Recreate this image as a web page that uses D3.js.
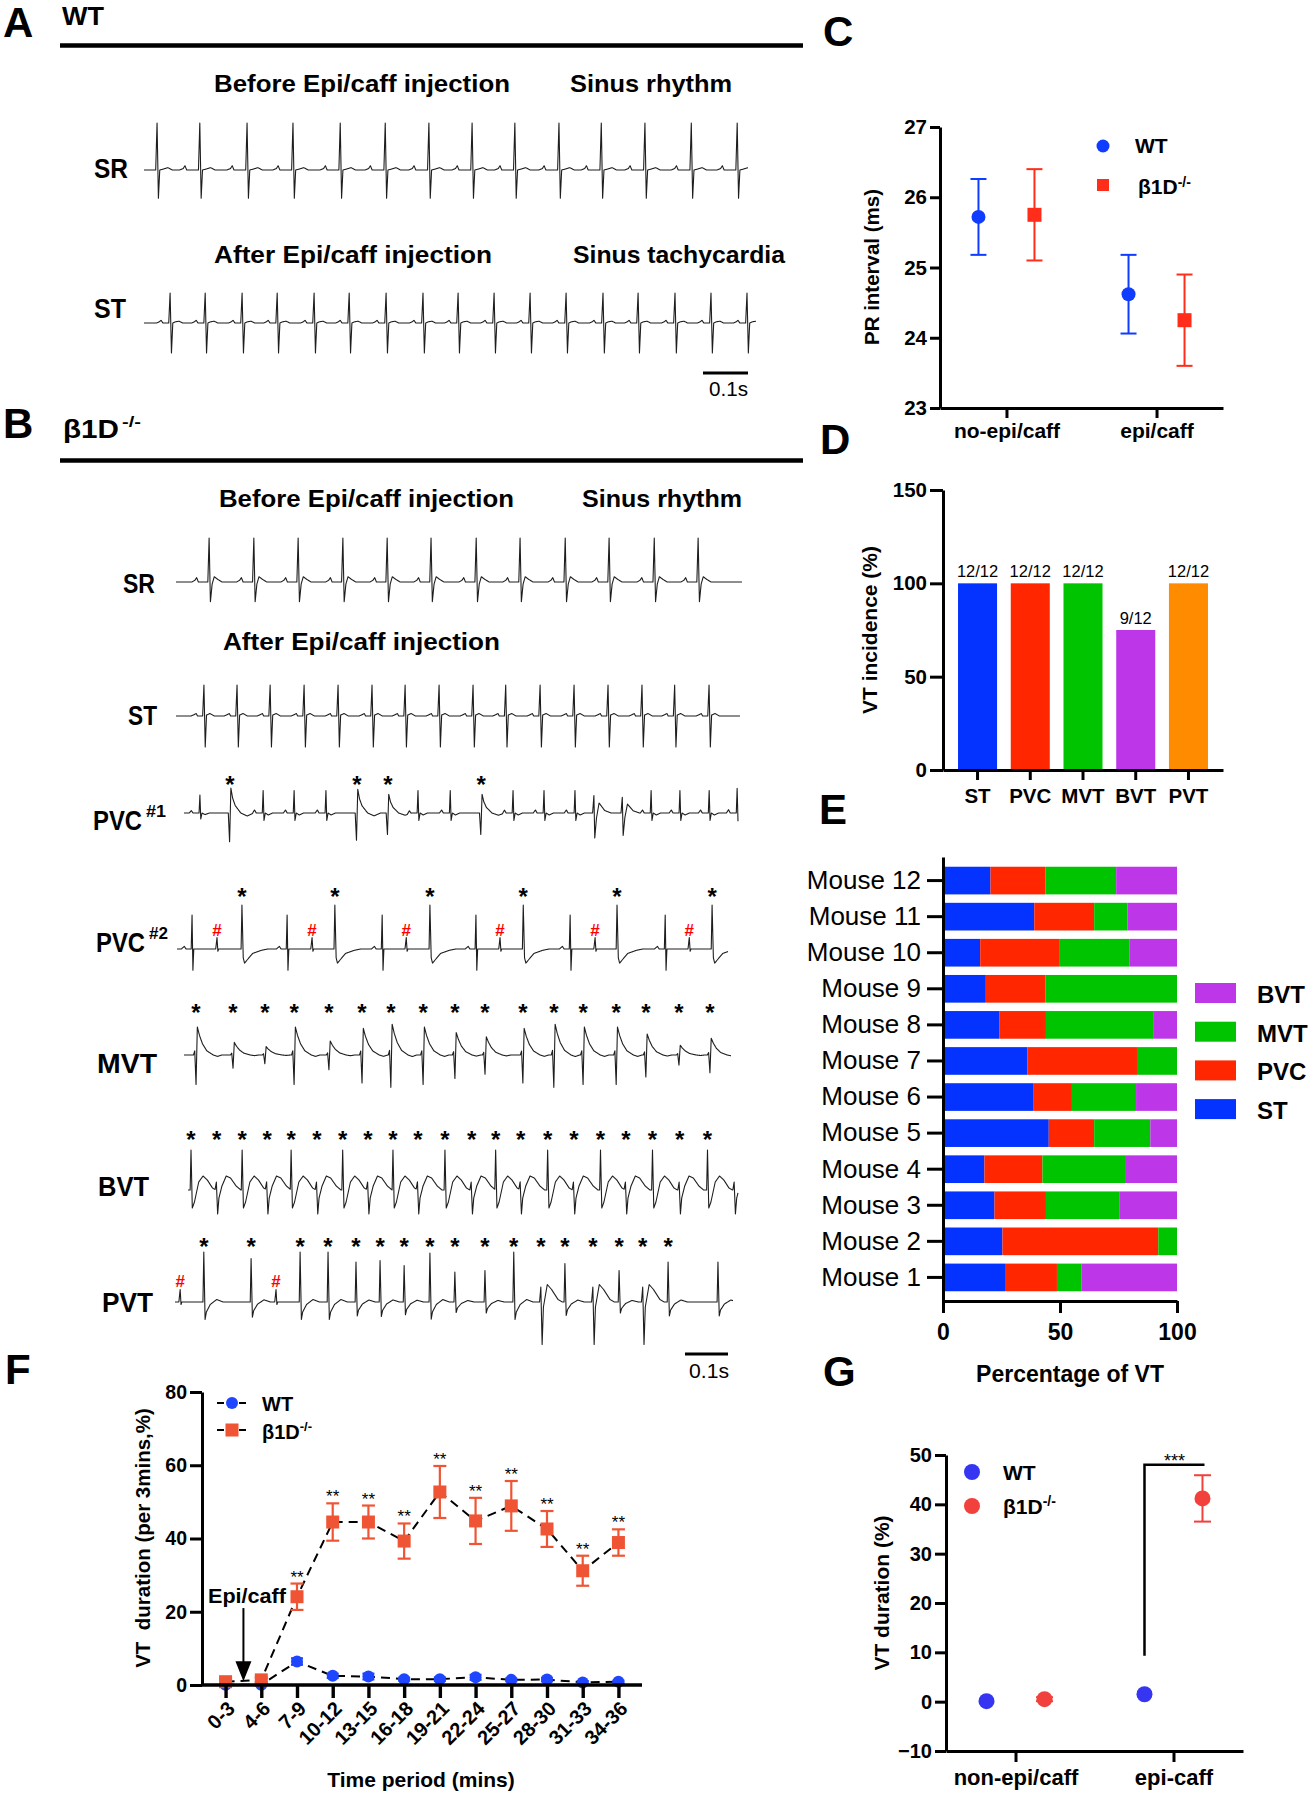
<!DOCTYPE html>
<html><head><meta charset="utf-8">
<script src="https://cdn.jsdelivr.net/npm/d3@7"></script>
<style>body{margin:0;background:#fff}svg{display:block}</style>
</head><body>
<svg id="fig" width="1314" height="1800"></svg>
<script>
// ================= DATA =================
// Panel C : PR interval (ms)
const prGroups = ["no-epi/caff", "epi/caff"];
const prWT = [25.72, 24.62];
const prWTerr = [0.54, 0.56];
const prKO = [25.75, 24.25];
const prKOerr = [0.65, 0.65];
const prTicks = [23, 24, 25, 26, 27];

// Panel D : VT incidence (%)
const vtTypes = ["ST", "PVC", "MVT", "BVT", "PVT"];
const vtIncidence = [100, 100, 100, 75, 100];
const vtCounts = ["12/12", "12/12", "12/12", "9/12", "12/12"];
const incTicks = [0, 50, 100, 150];

// Panel E : Percentage of VT per mouse (Mouse 1 .. Mouse 12)
const mice = ["Mouse 1","Mouse 2","Mouse 3","Mouse 4","Mouse 5","Mouse 6","Mouse 7","Mouse 8","Mouse 9","Mouse 10","Mouse 11","Mouse 12"];
const pctST  = [26.5, 25.4, 22.0, 17.7, 45.2, 38.5, 36.0, 24.0, 18.3, 15.9, 39.0, 20.3];
const pctPVC = [22.2, 66.6, 22.0, 24.8, 19.4, 16.6, 46.9, 20.0, 25.4, 33.7, 25.6, 23.4];
const pctMVT = [10.4,  8.0, 31.3, 35.3, 24.0, 27.4, 17.1, 46.1, 56.3, 30.2, 14.2, 30.3];
const pctBVT = [40.9,  0.0, 24.7, 22.2, 11.4, 17.5,  0.0,  9.9,  0.0, 20.2, 21.2, 26.0];
const pctTicks = [0, 50, 100];

// Panel F : VT duration per 3 mins (%)
const periods = ["0-3","4-6","7-9","10-12","13-15","16-18","19-21","22-24","25-27","28-30","31-33","34-36"];
const durWT    = [0.1, 0.1, 6.4, 2.5, 2.3, 1.6, 1.6, 2.1, 1.4, 1.5, 0.7, 0.9];
const durWTerr = [0.3, 0.3, 0.9, 0.6, 0.8, 0.4, 0.5, 0.7, 0.4, 0.5, 0.4, 0.3];
const durKO    = [0.9, 1.4, 24.1, 44.5, 44.5, 39.3, 52.7, 44.8, 48.9, 42.6, 31.2, 38.9];
const durKOerr = [0.8, 0.6, 3.6, 5.1, 4.5, 4.8, 7.1, 6.3, 6.8, 4.9, 4.1, 3.6];
const durSig   = ["", "", "**", "**", "**", "**", "**", "**", "**", "**", "**", "**"];
const durTicks = [0, 20, 40, 60, 80];

// Panel G : VT duration (%)
const gGroups = ["non-epi/caff", "epi-caff"];
const gWT = [0.1, 1.5];
const gWTerr = [0.2, 0.5];
const gKO = [0.5, 41.2];
const gKOerr = [0.4, 4.7];
const gTicks = [-10, 0, 10, 20, 30, 40, 50];

// Panels A/B : ECG beat times (ms), beat kinds, beat amplitude factors
const aSR_t = [29,124,229,331,436,536,633,729,824,922,1016,1113,1216,1318];
const aST_t = [58,136,218,296,378,456,538,620,698,778,858,938,1020,1098,1180,1260,1340];
const bSR_t = [77,181,284,388,491,593,698,800,905,1007,1112,1214];
const bST_t = [65,142,219,298,377,456,533,612,691,767,847,926,1005,1084,1160,1240];
const pvc1_t = [37,107,184,256,330,402,474,544,619,691,765,837,909,953,1019,1086,1153,1221,1286];
const pvc1_k = ["n1","p1","n1","n1","n1","p1","p1","n1","n1","p1","n1","n1","n1","w1","w1","n1","n1","n1","n1"];
const pvc1_a = [0.8,1.0,1,1,1,0.95,0.75,1,1,0.75,1,1,1,1,0.9,1,1,1,1.1];
const pvc1_star = [107, 402, 474, 691];
const pvc2_t = [35,93,151,256,314,367,477,533,588,695,751,805,914,972,1023,1135,1191,1244];
const pvc2_k = ["n2","h2","v2","n2","h2","v2","n2","h2","v2","n2","h2","v2","n2","h2","v2","n2","h2","v2"];
const pvc2_star = [151, 367, 588, 805, 1023, 1244];
const pvc2_hash = [93, 314, 533, 751, 972, 1191];
const mvt_t = [28,114,188,256,337,414,481,556,630,700,788,860,928,1005,1074,1151,1223];
const mvt_a = [1.0,0.45,0.3,1.0,0.5,0.95,1.1,1.0,0.8,0.65,0.95,1.1,1.0,1.0,0.75,0.35,0.6];
const bvt_t = [7,67,126,184,240,300,360,419,477,535,598,660,716,774,837,898,960,1019,1081,1144,1209,1272];
const bvt_k = ["U","D","U","D","U","D","U","D","U","D","U","D","U","D","U","D","U","D","U","D","U","D"];
const bvt_star = [7,67,126,184,240,300,360,419,477,535,598,660,716,774,837,898,960,1019,1081,1144,1209];
const pvt_t = [12,67,177,235,291,356,421,477,533,593,651,721,788,851,907,972,1033,1088,1147,1263];
const pvt_k = ["pH","pU","pU","pH","pU","pU","pU","pU","pU","pU","pU","pU","pU","pD","pU","pD","pU","pD","pU","pU"];
const pvt_a = [1,1.0,0.87,1,1.0,1.0,0.8,0.83,0.73,0.98,0.6,0.63,1.0,1,0.77,1,0.63,1,0.8,0.8];
const pvt_star = [67,177,291,356,421,477,533,593,651,721,788,851,907,972,1033,1088,1147];
const pvt_hash = [12, 235];

// beat waveform templates: [ms from beat, relative amplitude]
const TPL = {
  aS: [[-45,0],[-37,0.03],[-33,0.09],[-29,0],[-3,0],[0,1],[3,-0.6],[6,0],[14,0.02],[24,0.05],[34,0]],
  aT: [[-30,0],[-24,0.04],[-20,0.09],[-16,0],[-3,0],[0,1],[3,-1],[6,0],[12,0.04],[20,0.06],[28,0]],
  bS: [[-40,0],[-33,0.04],[-29,0.1],[-25,0],[-3,0],[0,1],[3,-0.45],[7,-0.05],[12,0.12],[20,0.06],[30,0]],
  bT: [[-30,0],[-22,0.05],[-18,0.08],[-15,0],[-3,0],[0,1],[3,-1],[6,0.03],[14,0.08],[24,0]],
  n1: [[-25,0],[-20,0.12],[-16,0],[-2,0],[0,0.9],[2,-0.3],[5,0],[12,-0.08],[22,0]],
  p1: [[-4,0],[-1,-1.15],[2,1.0],[6,0.6],[12,0.3],[25,0.0],[40,-0.12],[55,0]],
  w1: [[-3,0],[0,0.7],[2,-1.0],[6,-0.2],[12,0.4],[25,0.1],[40,0]],
  n2: [[-25,0],[-18,0.06],[-14,0],[-2,0],[0,0.77],[2,-0.48],[4,0],[30,0]],
  h2: [[-3,0],[0,0.26],[2,-0.05],[4,0]],
  v2: [[-2,0],[0,1.0],[3,-0.2],[6,-0.32],[12,-0.25],[25,-0.1],[45,-0.03],[60,0]],
  m:  [[-6,0],[-3,0.15],[0,-1.05],[3,1.0],[8,0.7],[15,0.4],[25,0.15],[40,0],[50,-0.05],[60,0]],
  U:  [[-2,0],[0,1.0],[3,-0.45],[8,-0.3],[18,0.2],[28,0.35],[38,0.25],[50,0.05],[58,0]],
  D:  [[-4,0],[-1,0.2],[2,-0.6],[5,-0.2],[12,0.1],[22,0.35],[32,0.3],[45,0.1],[56,0]],
  pU: [[-2,0],[0,1.0],[3,-0.35],[6,-0.2],[15,-0.05],[30,0.05],[45,0]],
  pD: [[-3,0],[0,0.3],[3,-0.85],[6,-0.1],[15,0.35],[25,0.25],[40,0.05],[50,0]],
  pH: [[-3,0],[0,0.25],[2,-0.05],[4,0]]
};

// ================= DRAWING =================
const SANS = "'Liberation Sans', Arial, Helvetica, sans-serif";
const svg = d3.select("#fig");
svg.append("rect").attr("width", 1314).attr("height", 1800).attr("fill", "#fff");

function txt(g, x, y, s, o = {}) {
  const t = g.append("text").attr("x", x).attr("y", y).text(s)
    .attr("font-family", o.family || SANS).attr("font-size", o.size || 20)
    .attr("font-weight", o.weight || "bold").attr("fill", o.fill || "#000")
    .attr("text-anchor", o.anchor || "start");
  if (o.len) t.attr("textLength", o.len).attr("lengthAdjust", "spacingAndGlyphs");
  if (o.rotate) t.attr("transform", `rotate(${o.rotate},${x},${y})`);
  if (o.pre) t.style("white-space", "pre");
  return t;
}
function koLabel(g, x, y, size, supSize, supDy) {
  const t = g.append("text").attr("x", x).attr("y", y).attr("font-family", SANS)
    .attr("font-weight", "bold").attr("font-size", size).attr("fill", "#000");
  t.append("tspan").text("β1D");
  t.append("tspan").attr("font-size", supSize).attr("dy", -supDy).text("-/-");
  return t;
}
function styleAxis(g, size, weight = "bold", w = 3) {
  g.select(".domain").attr("stroke", "#000").attr("stroke-width", w);
  g.selectAll(".tick line").attr("stroke", "#000").attr("stroke-width", w);
  g.selectAll(".tick text").attr("font-family", SANS).attr("font-size", size)
    .attr("font-weight", weight).attr("fill", "#000");
}
function errBar(g, x, y1, y2, cap, color, w) {
  g.append("line").attr("x1", x).attr("x2", x).attr("y1", y1).attr("y2", y2).attr("stroke", color).attr("stroke-width", w);
  [y1, y2].forEach(y => g.append("line").attr("x1", x - cap / 2).attr("x2", x + cap / 2)
    .attr("y1", y).attr("y2", y).attr("stroke", color).attr("stroke-width", w));
}

// ---- panel letters ----
[["A", 3, 37], ["B", 3, 438], ["C", 823, 46], ["D", 820, 454], ["E", 819, 824], ["F", 5, 1384], ["G", 823, 1386]]
  .forEach(([l, x, y]) => txt(svg, x, y, l, { size: 42 }));

// ---- ECG traces ----
function sampleTrace(times, kinds, amps, dur) {
  const pts = [];
  for (let t = 0; t <= dur; t += 0.5) {
    let v = 0;
    for (let i = 0; i < times.length; i++) {
      const tpl = TPL[Array.isArray(kinds) ? kinds[i] : kinds];
      const dt = t - times[i];
      if (dt < tpl[0][0] || dt > tpl[tpl.length - 1][0]) continue;
      for (let j = 1; j < tpl.length; j++) {
        if (dt <= tpl[j][0]) {
          const [t0, v0] = tpl[j - 1], [t1, v1] = tpl[j];
          v += (v0 + (v1 - v0) * (dt - t0) / (t1 - t0)) * (amps ? amps[i] : 1);
          break;
        }
      }
    }
    pts.push([t, v]);
  }
  return pts;
}
const traceLayout = {
  aSR: { dur: 1342, x0: 144, x1: 748, base: 170, unit: 47 },
  aST: { dur: 1360, x0: 144, x1: 756, base: 323, unit: 30 },
  bSR: { dur: 1316, x0: 176, x1: 742, base: 582, unit: 44 },
  bST: { dur: 1312, x0: 176, x1: 740, base: 716, unit: 31 },
  pvc1: { dur: 1288, x0: 184, x1: 738, base: 813, unit: 25, starY: 780 },
  pvc2: { dur: 1281, x0: 177, x1: 728, base: 949, unit: 44, starY: 892, hashY: 930 },
  mvt: { dur: 1272, x0: 184, x1: 731, base: 1055, unit: 28, starY: 1008 },
  bvt: { dur: 1280, x0: 188, x1: 738, base: 1190, unit: 40, starY: 1135 },
  pvt: { dur: 1298, x0: 175, x1: 733, base: 1302, unit: 50, starY: 1242, hashY: 1281 }
};
const traceData = {
  aSR: [aSR_t, "aS", null], aST: [aST_t, "aT", null],
  bSR: [bSR_t, "bS", null], bST: [bST_t, "bT", null],
  pvc1: [pvc1_t, pvc1_k, pvc1_a, pvc1_star],
  pvc2: [pvc2_t, pvc2_k, null, pvc2_star, pvc2_hash],
  mvt: [mvt_t, "m", mvt_a, mvt_t],
  bvt: [bvt_t, bvt_k, null, bvt_star],
  pvt: [pvt_t, pvt_k, pvt_a, pvt_star, pvt_hash]
};
const gECG = svg.append("g");
Object.keys(traceLayout).forEach(key => {
  const L = traceLayout[key], [times, kinds, amps, stars, hashes] = traceData[key];
  const xs = d3.scaleLinear().domain([0, L.dur]).range([L.x0, L.x1]);
  const ys = d3.scaleLinear().domain([0, 1]).range([L.base, L.base - L.unit]);
  const pts = sampleTrace(times, kinds, amps, L.dur);
  gECG.append("path").attr("d", d3.line().x(d => xs(d[0])).y(d => ys(d[1]))(pts))
    .attr("fill", "none").attr("stroke", "#1e1e1e").attr("stroke-width", 1.1).attr("stroke-linejoin", "round");
  if (stars) stars.forEach(t => txt(gECG, xs(t), L.starY + 13, "*", { size: 24, anchor: "middle" }));
  if (hashes) hashes.forEach(t => txt(gECG, xs(t), L.hashY + 6, "#", { size: 17, anchor: "middle", fill: "#ff0000" }));
});

// ---- Panel A text ----
const gA = svg.append("g");
txt(gA, 62, 25, "WT", { size: 25, len: 42 });
gA.append("line").attr("x1", 60).attr("x2", 803).attr("y1", 45.5).attr("y2", 45.5).attr("stroke", "#000").attr("stroke-width", 4.5);
txt(gA, 214, 92, "Before Epi/caff injection", { size: 24, len: 296 });
txt(gA, 570, 92, "Sinus rhythm", { size: 24, len: 162 });
txt(gA, 214, 263, "After Epi/caff injection", { size: 24, len: 278 });
txt(gA, 573, 263, "Sinus tachycardia", { size: 24, len: 212 });
txt(gA, 94, 178, "SR", { size: 27, len: 34 });
txt(gA, 94, 318, "ST", { size: 27, len: 32 });
gA.append("line").attr("x1", 703).attr("x2", 748).attr("y1", 373).attr("y2", 373).attr("stroke", "#000").attr("stroke-width", 3);
txt(gA, 709, 396, "0.1s", { size: 20, weight: "normal", len: 39 });

// ---- Panel B text ----
const gB = svg.append("g");
txt(gB, 63, 438, "β1D", { size: 26, len: 56 });
txt(gB, 122, 427, "-/-", { size: 15, len: 19 });
gB.append("line").attr("x1", 60).attr("x2", 803).attr("y1", 460.5).attr("y2", 460.5).attr("stroke", "#000").attr("stroke-width", 4.5);
txt(gB, 219, 507, "Before Epi/caff injection", { size: 24, len: 295 });
txt(gB, 582, 507, "Sinus rhythm", { size: 24, len: 160 });
txt(gB, 223, 650, "After Epi/caff injection", { size: 24, len: 277 });
txt(gB, 123, 593, "SR", { size: 27, len: 32 });
txt(gB, 128, 725, "ST", { size: 27, len: 29 });
txt(gB, 93, 830, "PVC", { size: 27, len: 49 });
txt(gB, 146, 817, "#1", { size: 17, len: 20 });
txt(gB, 96, 952, "PVC", { size: 27, len: 49 });
txt(gB, 149, 939, "#2", { size: 17, len: 19 });
txt(gB, 97, 1073, "MVT", { size: 27, len: 60 });
txt(gB, 98, 1196, "BVT", { size: 27, len: 51 });
txt(gB, 102, 1312, "PVT", { size: 27, len: 51 });
gB.append("line").attr("x1", 685).attr("x2", 728).attr("y1", 1354).attr("y2", 1354).attr("stroke", "#000").attr("stroke-width", 3);
txt(gB, 689, 1378, "0.1s", { size: 20, weight: "normal", len: 40 });

// ---- Panel C ----
const BLUE_C = "#0f3cff", RED_C = "#ff2d1a";
const gC = svg.append("g");
const yC = d3.scaleLinear().domain([23, 27]).range([408, 127]);
const xC = d3.scalePoint().domain(prGroups).range([940, 1223]).padding(0.443);
gC.append("g").attr("transform", "translate(940,0)")
  .call(d3.axisLeft(yC).tickValues(prTicks).tickFormat(d3.format("d")).tickSize(10).tickSizeOuter(0).tickPadding(3)).call(styleAxis, 20.5);
gC.append("g").attr("transform", "translate(0,408)")
  .call(d3.axisBottom(xC).tickSize(10).tickSizeOuter(0).tickPadding(5)).call(styleAxis, 21);
txt(gC, 879, 267, "PR interval (ms)", { size: 20.5, anchor: "middle", rotate: -90 });
prGroups.forEach((g, i) => {
  const xw = xC(g) - 28, xk = xC(g) + 28;
  errBar(gC, xw, yC(prWT[i] + prWTerr[i]), yC(prWT[i] - prWTerr[i]), 16, BLUE_C, 2);
  gC.append("circle").attr("cx", xw).attr("cy", yC(prWT[i])).attr("r", 7).attr("fill", BLUE_C);
  errBar(gC, xk, yC(prKO[i] + prKOerr[i]), yC(prKO[i] - prKOerr[i]), 16, RED_C, 2);
  gC.append("rect").attr("x", xk - 7).attr("y", yC(prKO[i]) - 7).attr("width", 14).attr("height", 14).attr("fill", RED_C);
});
gC.append("circle").attr("cx", 1103).attr("cy", 146).attr("r", 6.5).attr("fill", BLUE_C);
txt(gC, 1135, 153, "WT", { size: 21 });
gC.append("rect").attr("x", 1097).attr("y", 179).attr("width", 12).attr("height", 12).attr("fill", RED_C);
koLabel(gC, 1138, 194, 21, 14, 7);

// ---- Panel D ----
const COLORS = { ST: "#0433ff", PVC: "#ff2600", MVT: "#00c400", BVT: "#bd37e8", PVT: "#ff8c00" };
const gD = svg.append("g");
const yD = d3.scaleLinear().domain([0, 150]).range([770, 490]);
const xD = d3.scaleBand().domain(vtTypes).range([943, 1223]).paddingInner(0.26).paddingOuter(0.285);
gD.selectAll("rect.bar").data(vtTypes).join("rect").attr("class", "bar")
  .attr("x", d => xD(d)).attr("width", xD.bandwidth())
  .attr("y", (d, i) => yD(vtIncidence[i])).attr("height", (d, i) => yD(0) - yD(vtIncidence[i]))
  .attr("fill", d => COLORS[d]);
gD.selectAll("text.cnt").data(vtTypes).join("text").attr("class", "cnt")
  .attr("x", d => xD(d) + xD.bandwidth() / 2).attr("y", (d, i) => yD(vtIncidence[i]) - 6)
  .attr("text-anchor", "middle").attr("font-family", SANS).attr("font-size", 16.5).attr("fill", "#000")
  .text((d, i) => vtCounts[i]);
gD.append("g").attr("transform", "translate(943,0)")
  .call(d3.axisLeft(yD).tickValues(incTicks).tickSize(13).tickSizeOuter(0).tickPadding(3)).call(styleAxis, 20.5);
gD.append("g").attr("transform", "translate(0,770)")
  .call(d3.axisBottom(xD).tickSize(10).tickSizeOuter(0).tickPadding(8)).call(styleAxis, 20.5);
txt(gD, 877, 630, "VT incidence (%)", { size: 21, anchor: "middle", rotate: -90 });

// ---- Panel E ----
const gE = svg.append("g");
const stackKeys = ["ST", "PVC", "MVT", "BVT"];
const eRows = mice.map((m, i) => ({ mouse: m, ST: pctST[i], PVC: pctPVC[i], MVT: pctMVT[i], BVT: pctBVT[i] }));
const xE = d3.scaleLinear().domain([0, 100]).range([943, 1177]);
const yE = d3.scaleBand().domain(mice.slice().reverse()).range([857, 1301]).paddingInner(0.233).paddingOuter(0.27);
const stacked = d3.stack().keys(stackKeys)(eRows);
gE.selectAll("g.layer").data(stacked).join("g").attr("class", "layer").attr("fill", d => COLORS[d.key])
  .selectAll("rect").data(d => d).join("rect")
  .attr("x", d => xE(d[0])).attr("width", d => xE(d[1]) - xE(d[0]))
  .attr("y", d => yE(d.data.mouse)).attr("height", yE.bandwidth());
gE.append("g").attr("transform", "translate(943,0)")
  .call(d3.axisLeft(yE).tickSize(16).tickSizeOuter(0).tickPadding(6)).call(styleAxis, 26, "normal");
gE.append("g").attr("transform", "translate(0,1301)")
  .call(d3.axisBottom(xE).tickValues(pctTicks).tickSize(12).tickSizeOuter(0).tickPadding(11)).call(styleAxis, 23);
txt(gE, 1070, 1382, "Percentage of VT", { size: 23, anchor: "middle" });
["BVT", "MVT", "PVC", "ST"].forEach((k, i) => {
  const y0 = 983 + i * 38.7;
  gE.append("rect").attr("x", 1195).attr("y", y0).attr("width", 41).attr("height", 20).attr("fill", COLORS[k]);
  txt(gE, 1257, y0 + 20, k, { size: 24 });
});

// ---- Panel F ----
const BLUE_F = "#1e46ff", RED_F = "#ef5535";
const gF = svg.append("g");
const xF = d3.scalePoint().domain(periods).range([202, 642]).padding(0.66);
const yF = d3.scaleLinear().domain([0, 80]).range([1685, 1392]);
const lineF = (vals) => d3.line().x((d, i) => xF(periods[i])).y(d => yF(d))(vals);
gF.append("path").attr("d", lineF(durWT)).attr("fill", "none").attr("stroke", "#000").attr("stroke-width", 2).attr("stroke-dasharray", "9,6");
gF.append("path").attr("d", lineF(durKO)).attr("fill", "none").attr("stroke", "#000").attr("stroke-width", 2).attr("stroke-dasharray", "9,6");
periods.forEach((p, i) => {
  errBar(gF, xF(p), yF(durWT[i] + durWTerr[i]), yF(durWT[i] - durWTerr[i]), 12, BLUE_F, 2);
  gF.append("circle").attr("cx", xF(p)).attr("cy", yF(durWT[i])).attr("r", 6).attr("fill", BLUE_F);
});
periods.forEach((p, i) => {
  errBar(gF, xF(p), yF(durKO[i] + durKOerr[i]), yF(durKO[i] - durKOerr[i]), 13, RED_F, 2.2);
  gF.append("rect").attr("x", xF(p) - 6.5).attr("y", yF(durKO[i]) - 6.5).attr("width", 13).attr("height", 13).attr("fill", RED_F);
  if (durSig[i]) txt(gF, xF(p), yF(durKO[i] + durKOerr[i]) - 1, durSig[i], { size: 17, anchor: "middle", weight: "normal" });
});
gF.append("g").attr("transform", "translate(202,0)")
  .call(d3.axisLeft(yF).tickValues(durTicks).tickSize(12).tickSizeOuter(0).tickPadding(3)).call(styleAxis, 19.5);
const axF = gF.append("g").attr("transform", "translate(0,1685)")
  .call(d3.axisBottom(xF).tickSize(13).tickSizeOuter(0)).call(styleAxis, 20, "bold", 3.4);
axF.selectAll(".tick text").attr("x", 0).attr("y", 0).attr("dy", "0.35em").attr("text-anchor", "end")
  .attr("transform", "translate(5,20) rotate(-45)");
axF.select(".domain").attr("d", "M202,0H642");
txt(gF, 421, 1787, "Time period (mins)", { size: 21, anchor: "middle" });
txt(gF, 150, 1538, "VT  duration (per 3mins,%)", { size: 20.5, anchor: "middle", rotate: -90, pre: true });
// legend
gF.append("line").attr("x1", 217).attr("x2", 249).attr("y1", 1403).attr("y2", 1403).attr("stroke", "#000").attr("stroke-width", 2).attr("stroke-dasharray", "7,4");
gF.append("circle").attr("cx", 232).attr("cy", 1403).attr("r", 6).attr("fill", BLUE_F);
txt(gF, 262, 1411, "WT", { size: 20 });
gF.append("line").attr("x1", 217).attr("x2", 249).attr("y1", 1430).attr("y2", 1430).attr("stroke", "#000").attr("stroke-width", 2).attr("stroke-dasharray", "7,4");
gF.append("rect").attr("x", 225.5).attr("y", 1423.5).attr("width", 13).attr("height", 13).attr("fill", RED_F);
koLabel(gF, 262, 1439, 20, 13, 8);
// Epi/caff arrow
const arrX = (xF(periods[0]) + xF(periods[1])) / 2;
gF.append("line").attr("x1", arrX).attr("x2", arrX).attr("y1", yF(21)).attr("y2", yF(5)).attr("stroke", "#000").attr("stroke-width", 2);
gF.append("path").attr("d", `M${arrX - 8},${yF(6.5)}L${arrX + 8},${yF(6.5)}L${arrX},${yF(1)}Z`).attr("fill", "#000");
txt(gF, 208, 1603, "Epi/caff", { size: 21, len: 78 });

// ---- Panel G ----
const BLUE_G = "#3535f2", RED_G = "#f2403c";
const gG = svg.append("g");
const xG = d3.scalePoint().domain(gGroups).range([946, 1243]).padding(0.44);
const yG = d3.scaleLinear().domain([-10, 50]).range([1751, 1455]);
gG.append("g").attr("transform", "translate(946,0)")
  .call(d3.axisLeft(yG).tickValues(gTicks).tickSize(11).tickSizeOuter(0).tickPadding(3)).call(styleAxis, 20);
gG.append("g").attr("transform", "translate(0,1751)")
  .call(d3.axisBottom(xG).tickSize(11).tickSizeOuter(0).tickPadding(7)).call(styleAxis, 22);
txt(gG, 889, 1593, "VT duration (%)", { size: 21, anchor: "middle", rotate: -90 });
gGroups.forEach((g, i) => {
  const xw = xG(g) - 29, xk = xG(g) + 29;
  errBar(gG, xw, yG(gWT[i] + gWTerr[i]), yG(gWT[i] - gWTerr[i]), 14, BLUE_G, 2);
  gG.append("circle").attr("cx", xw).attr("cy", yG(gWT[i])).attr("r", 8).attr("fill", BLUE_G);
  errBar(gG, xk, yG(gKO[i] + gKOerr[i]), yG(gKO[i] - gKOerr[i]), 17, RED_G, 2);
  gG.append("circle").attr("cx", xk).attr("cy", yG(gKO[i])).attr("r", 8).attr("fill", RED_G);
});
// significance bracket
const bx1 = xG(gGroups[1]) - 29, bx2 = xG(gGroups[1]) + 31;
gG.append("path").attr("d", `M${bx1},${yG(9.3)}V${yG(48)}H${bx2}`).attr("fill", "none").attr("stroke", "#000").attr("stroke-width", 2.5);
txt(gG, (bx1 + bx2) / 2, yG(48) + 2, "***", { size: 18, anchor: "middle", weight: "normal" });
// legend
gG.append("circle").attr("cx", 972).attr("cy", 1472).attr("r", 8).attr("fill", BLUE_G);
txt(gG, 1003, 1480, "WT", { size: 21 });
gG.append("circle").attr("cx", 972).attr("cy", 1506).attr("r", 8).attr("fill", RED_G);
koLabel(gG, 1003, 1514, 21, 14, 8);
</script>
</body></html>
